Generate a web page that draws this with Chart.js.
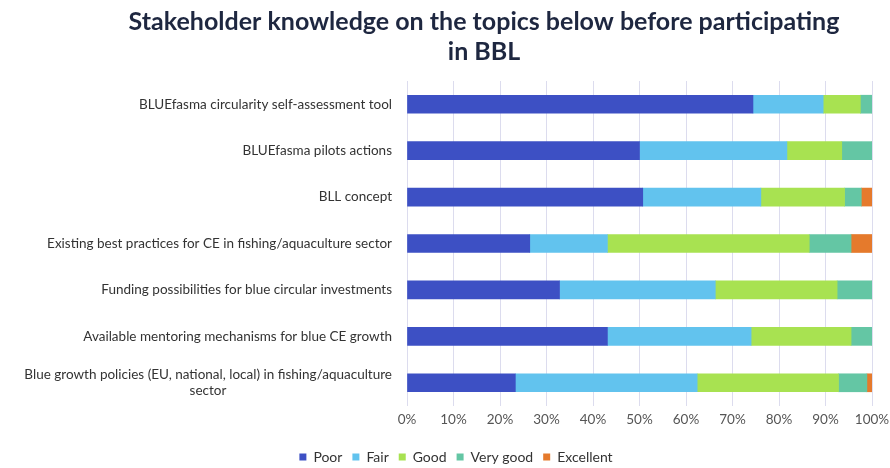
<!DOCTYPE html>
<html>
<head>
<meta charset="utf-8">
<script src="https://cdn.jsdelivr.net/npm/chart.js@4"></script>
<style>
  html, body { margin: 0; padding: 0; background: #ffffff; }
  #wrap { width: 890px; height: 468px; }
</style>
</head>
<body>
<div id="wrap"><canvas id="knowledgeChart" width="890" height="468"></canvas></div>
<script>
// Categories (top to bottom)
const topics = [
    'BLUEfasma circularity self-assessment tool',
    'BLUEfasma pilots actions',
    'BLL concept',
    'Existing best practices for CE in fishing/aquaculture sector',
    'Funding possibilities for blue circular investments',
    'Available mentoring mechanisms for blue CE growth',
    ['Blue growth policies (EU, national, local) in fishing/aquaculture', 'sector']
];

// Share of respondents (%) per rating level
const poor      = [74.4, 50.0, 50.7, 26.4, 32.8, 43.1, 23.3];
const fair      = [15.1, 31.7, 25.4, 16.7, 33.5, 30.9, 39.1];
const good      = [ 8.0, 11.8, 18.0, 43.4, 26.2, 21.5, 30.4];
const veryGood  = [ 2.5,  6.5,  3.6,  9.0,  7.5,  4.5,  6.1];
const excellent = [ 0.0,  0.0,  2.3,  4.5,  0.0,  0.0,  1.1];

const xTicks = [0, 10, 20, 30, 40, 50, 60, 70, 80, 90, 100];

const titleLines = ['Stakeholder knowledge on the topics below before participating', 'in BBL'];

const FONT = 'Lato, "Liberation Sans", sans-serif';

// wrapped labels are centred line by line in the original
const measure = document.createElement('canvas').getContext('2d');
measure.font = '13.5px ' + FONT;
function centerLines(label) {
    if (!Array.isArray(label)) return label;
    const widths = label.map(l => measure.measureText(l).width);
    const widest = Math.max(...widths);
    const sp = measure.measureText('\u00a0').width;
    return label.map((l, i) => l + '\u00a0'.repeat(Math.round((widest - widths[i]) / 2 / sp)));
}

// Title sits right of the canvas centre in the original, so draw it here
const titlePlugin = {
    id: 'offsetTitle',
    afterDraw(chart) {
        const c = chart.ctx;
        c.save();
        c.fillStyle = '#1e2740';
        c.font = 'bold 25px ' + FONT;
        c.textAlign = 'center';
        c.textBaseline = 'middle';
        titleLines.forEach((line, i) => c.fillText(line, 484, 22 + i * 30));
        c.restore();
    }
};

// Keep the legend short and nudge it right, like the original
const legendTweak = {
    id: 'legendTweak',
    beforeLayout(chart) {
        const legend = chart.legend;
        if (legend && !legend._tweaked) {
            const fit = legend.fit.bind(legend);
            legend.fit = function() {
                fit();
                this.height = 28;
            };
            legend._tweaked = true;
        }
    },
    afterLayout(chart) {
        const legend = chart.legend;
        if (legend) {
            legend.left += 20;
            legend.right += 20;
        }
    }
};

const ctx = document.getElementById('knowledgeChart').getContext('2d');
new Chart(ctx, {
    type: 'bar',
    data: {
        labels: topics,
        datasets: [
            { label: 'Poor', data: poor, backgroundColor: '#3d50c4' },
            { label: 'Fair', data: fair, backgroundColor: '#62c3ee' },
            { label: 'Good', data: good, backgroundColor: '#a8e251' },
            { label: 'Very good', data: veryGood, backgroundColor: '#64c6a4' },
            { label: 'Excellent', data: excellent, backgroundColor: '#e57a2c' }
        ]
    },
    plugins: [titlePlugin, legendTweak],
    options: {
        indexAxis: 'y',
        responsive: false,
        animation: false,
        maintainAspectRatio: false,
        datasets: {
            bar: {
                barThickness: 18,
                borderWidth: 0
            }
        },
        layout: {
            padding: { left: 0, right: 18, top: 81, bottom: 0 }
        },
        plugins: {
            title: { display: false },
            legend: {
                position: 'bottom',
                labels: {
                    color: '#333333',
                    font: { family: FONT, size: 14 },
                    boxWidth: 7,
                    boxHeight: 7,
                    padding: 10
                }
            },
            tooltip: { enabled: false }
        },
        scales: {
            x: {
                stacked: true,
                min: 0,
                max: 100,
                afterBuildTicks: function(scale) {
                    scale.ticks = xTicks.map(v => ({ value: v }));
                },
                afterFit: function(scale) {
                    scale.paddingLeft = 0;
                    scale.paddingRight = 0;
                    scale.height = 468 - 28 - 406;
                },
                grid: {
                    color: '#dcdcee',
                    drawTicks: false
                },
                border: { display: false },
                ticks: {
                    color: '#555555',
                    font: { family: FONT, size: 13.5 },
                    padding: 6,
                    maxRotation: 0,
                    callback: v => v + '%'
                }
            },
            y: {
                stacked: true,
                afterFit: function(scale) {
                    scale.width = 407;
                },
                grid: { display: false },
                border: { display: false },
                ticks: {
                    color: '#333333',
                    font: { family: FONT, size: 13.5 },
                    padding: 7,
                    callback: function(value) {
                        return centerLines(this.getLabelForValue(value));
                    }
                }
            }
        }
    }
});
</script>
</body>
</html>
